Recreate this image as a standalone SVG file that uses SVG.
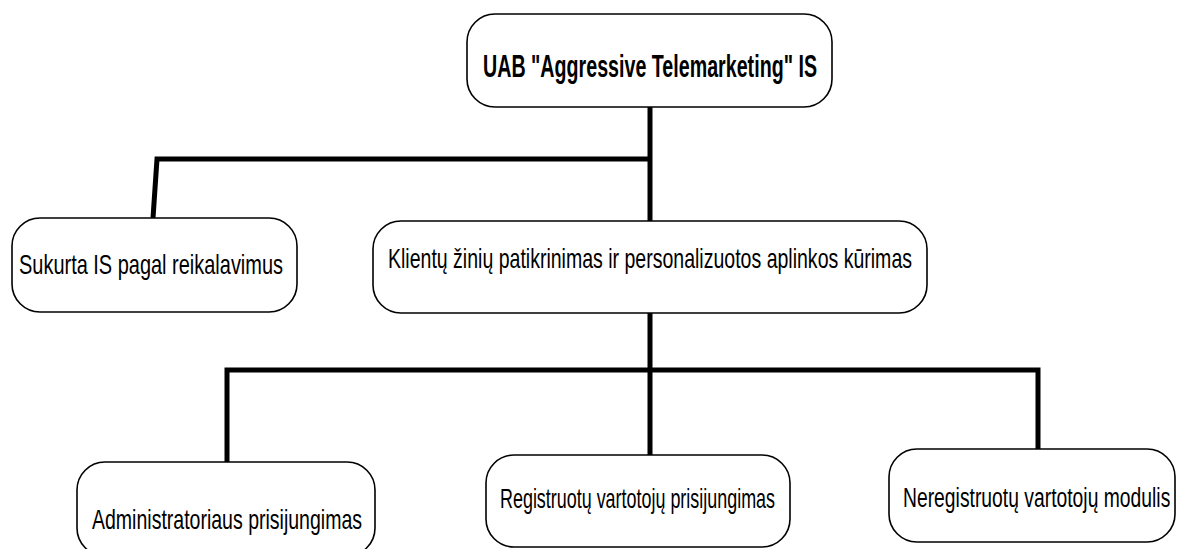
<svg xmlns="http://www.w3.org/2000/svg" width="1178" height="549" viewBox="0 0 1178 549">
  <style>
    .box { fill: #ffffff; stroke: #000000; stroke-width: 1.6; }
    .lbl { font-family: "Liberation Sans", Arial, sans-serif; font-size: 28px; fill: #000000; }
    .title { font-weight: bold; font-size: 31px; }
    .wire { fill: none; stroke: #000000; stroke-width: 5; stroke-linejoin: miter; stroke-linecap: butt; }
  </style>
  <rect width="1178" height="549" fill="#ffffff"/>

  <!-- tree connectors -->
  <g id="connectors">
    <polyline class="wire" points="650,107 650,221"/>
    <polyline class="wire" points="153,218 157,159 650,159"/>
    <polyline class="wire" points="650,313 650,456"/>
    <polyline class="wire" points="227,462 227,370 1038,370 1038,449"/>
  </g>

  <g id="root">
    <rect class="box" x="467" y="14" width="365" height="93" rx="28" ry="28"/>
    <text class="lbl title" x="483" y="77" textLength="334" lengthAdjust="spacingAndGlyphs">UAB "Aggressive Telemarketing" IS</text>
  </g>

  <g id="sukurta">
    <rect class="box" x="12" y="218" width="285" height="94" rx="28" ry="28"/>
    <text class="lbl" x="19" y="274" textLength="264" lengthAdjust="spacingAndGlyphs">Sukurta IS pagal reikalavimus</text>
  </g>

  <g id="klientu">
    <rect class="box" x="373" y="221" width="554" height="92" rx="28" ry="28"/>
    <text class="lbl" x="388" y="268" textLength="524" lengthAdjust="spacingAndGlyphs">Klientų žinių patikrinimas ir personalizuotos aplinkos kūrimas</text>
  </g>

  <g id="admin">
    <rect class="box" x="77" y="462" width="298" height="94" rx="28" ry="28"/>
    <text class="lbl" x="92" y="529" textLength="270" lengthAdjust="spacingAndGlyphs">Administratoriaus prisijungimas</text>
  </g>

  <g id="registruotu">
    <rect class="box" x="486" y="455" width="304" height="92" rx="28" ry="28"/>
    <text class="lbl" x="500" y="508" textLength="275" lengthAdjust="spacingAndGlyphs">Registruotų vartotojų prisijungimas</text>
  </g>

  <g id="neregistruotu">
    <rect class="box" x="889" y="449" width="286" height="93" rx="28" ry="28"/>
    <!-- condensed horizontally to fit the narrow box -->
    <text class="lbl" transform="translate(903 507) scale(0.69 1)">Neregistruotų vartotojų modulis</text>
  </g>
</svg>
